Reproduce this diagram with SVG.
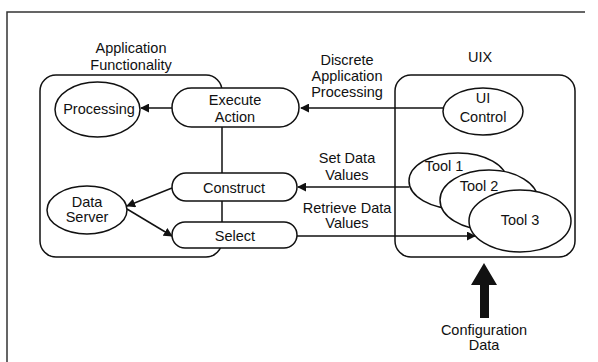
<svg xmlns="http://www.w3.org/2000/svg" width="598" height="362" viewBox="0 0 598 362">
<defs>
<style>
text{font-family:"Liberation Sans",Arial,sans-serif;font-size:14.5px;fill:#111;text-anchor:middle}
.s{fill:#fff;stroke:#111;stroke-width:1.5}
.g{fill:none;stroke:#111;stroke-width:1.5}
.c{fill:none;stroke:#111;stroke-width:1.5}
</style>
<marker id="ah" viewBox="0 0 10 10" refX="9" refY="5" markerWidth="9" markerHeight="9" markerUnits="userSpaceOnUse" orient="auto">
<path d="M0,0 L10,5 L0,10 z" fill="#111"/>
</marker>
</defs>
<rect width="598" height="362" fill="#fff"/>
<path d="M7,362 V12 H585" fill="none" stroke="#333" stroke-width="1.5"/>

<g id="app-functionality">
<rect class="g" x="40" y="75" width="182" height="182" rx="16"/>
<text x="131" y="53">Application</text>
<text x="131" y="70">Functionality</text>
</g>
<g id="uix">
<rect class="g" x="395" y="75" width="180" height="182" rx="16"/>
<text x="480" y="62">UIX</text>
</g>

<g id="connectors">
<line class="c" x1="443" y1="108" x2="301" y2="108" marker-end="url(#ah)"/>
<line class="c" x1="172" y1="108" x2="141" y2="108" marker-end="url(#ah)"/>
<line class="c" x1="409" y1="187" x2="298" y2="187" marker-end="url(#ah)"/>
<line class="c" x1="297" y1="236" x2="475" y2="236" marker-end="url(#ah)"/>
<line class="c" x1="172" y1="188" x2="127" y2="206" marker-end="url(#ah)"/>
<line class="c" x1="127" y1="209" x2="172" y2="236" marker-end="url(#ah)"/>
<path d="M484,263 L497,285 L489,285 L489,318 L480,318 L480,285 L471,285 z" fill="#111"/>
<text x="347" y="65">Discrete</text>
<text x="347" y="81">Application</text>
<text x="347" y="97">Processing</text>
<text x="347" y="163">Set Data</text>
<text x="347" y="180">Values</text>
<text x="347" y="213">Retrieve Data</text>
<text x="347" y="228">Values</text>
<text x="484" y="335">Configuration</text>
<text x="484" y="350">Data</text>
</g>

<g id="processing">
<ellipse class="s" cx="97.5" cy="109.5" rx="42.5" ry="27.5"/>
<text x="99" y="114">Processing</text>
</g>
<g id="execute-action">
<rect class="s" x="172" y="88" width="127" height="39" rx="19.5"/>
<text x="235" y="105">Execute</text>
<text x="235" y="122">Action</text>
</g>
<g id="construct">
<rect class="s" x="172" y="173" width="125" height="28" rx="14"/>
<text x="234" y="193">Construct</text>
</g>
<g id="select">
<rect class="s" x="172" y="222" width="125" height="26" rx="13"/>
<text x="235" y="241">Select</text>
</g>
<g id="data-server">
<ellipse class="s" cx="87" cy="210" rx="40" ry="24"/>
<text x="87" y="207">Data</text>
<text x="87" y="222">Server</text>
</g>
<g id="ui-control">
<ellipse class="s" cx="483" cy="111.5" rx="40" ry="23.5"/>
<text x="483" y="103">UI</text>
<text x="483" y="122">Control</text>
</g>
<g id="tool1">
<ellipse class="s" cx="458" cy="181" rx="49" ry="28"/>
<text x="444" y="171">Tool 1</text>
</g>
<g id="tool2">
<ellipse class="s" cx="489" cy="200" rx="49" ry="30"/>
<text x="479" y="191">Tool 2</text>
</g>
<g id="tool3">
<ellipse class="s" cx="520" cy="221" rx="51" ry="31"/>
<text x="520" y="225">Tool 3</text>
</g>
</svg>
